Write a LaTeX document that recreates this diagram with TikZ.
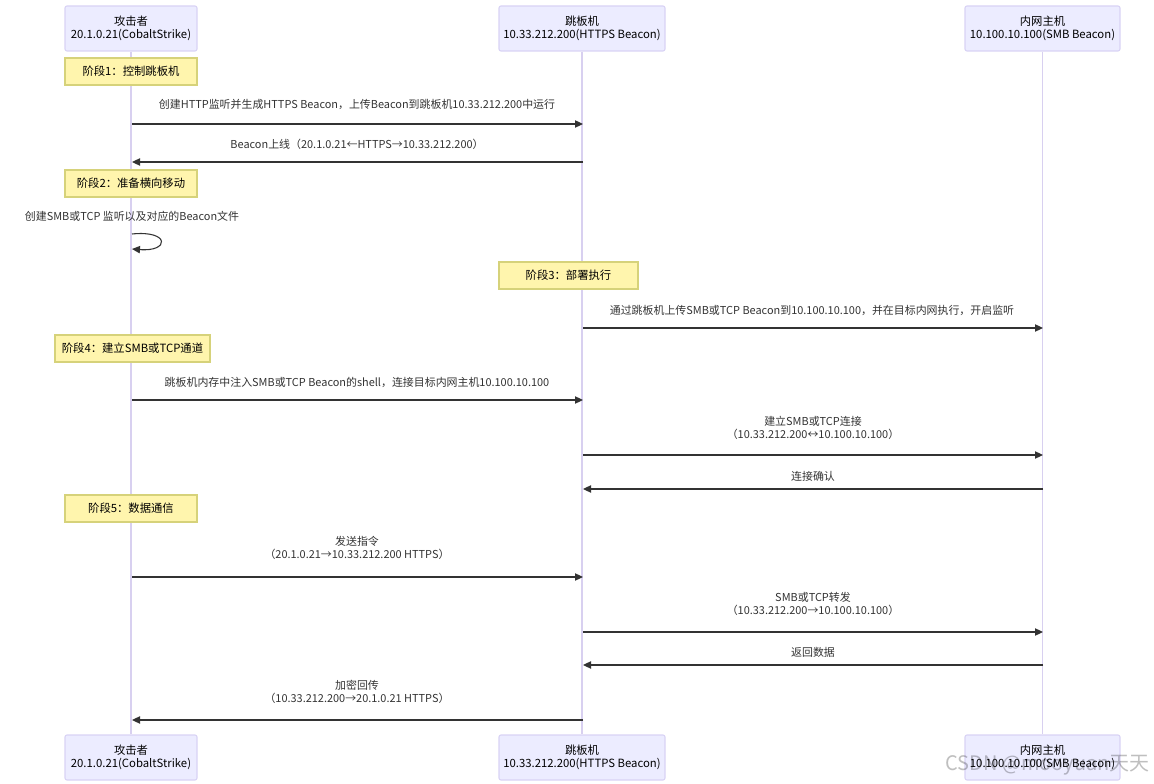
\documentclass[tikz,border=0pt]{standalone}
\usepackage{fontspec}
\setmainfont{Noto Sans CJK SC}
\usetikzlibrary{arrows.meta}
\definecolor{actfill}{HTML}{ECECFF}
\definecolor{actline}{HTML}{D9D3F5}
\definecolor{lifeline}{HTML}{D8D0F0}
\definecolor{notefill}{HTML}{FFF5AD}
\definecolor{noteline}{HTML}{D6D27A}
\definecolor{msg}{HTML}{333333}
\tikzset{
  actor/.style={draw=actline, fill=actfill, rounded corners=1.5pt, line width=0.8pt,
    minimum height=45*0.75pt, align=center, inner sep=0pt,
    font=\fontsize{8.5}{10}\selectfont, text=black},
  notebox/.style={draw=noteline, fill=notefill, line width=0.8pt,
    minimum height=27*0.75pt, inner sep=0pt, font=\fontsize{8.5}{10}\selectfont, text=black},
  life/.style={draw=lifeline, line width=0.9pt},
  msgline/.style={draw=msg, line width=0.8pt, -{Triangle[length=6pt,width=5.5pt]}},
  msgtext/.style={font=\fontsize{8.2}{9.75}\selectfont, text=msg, align=center, inner sep=0pt}
}
\begin{document}
\begin{tikzpicture}[x=0.75pt, y=-0.75pt]
\useasboundingbox (0,0) rectangle (1154,784);
\fill[white] (0,0) rectangle (1154,784);
% actors
\node[actor, minimum width=132*0.75pt] (A) at (131,28.5) {攻击者\\20.1.0.21(CobaltStrike)};
\node[actor, minimum width=166*0.75pt] (J) at (582,28.5) {跳板机\\10.33.212.200(HTTPS Beacon)};
\node[actor, minimum width=155*0.75pt] (I) at (1042.5,28.5) {内网主机\\10.100.10.100(SMB Beacon)};
\node[actor, minimum width=132*0.75pt] (A2) at (131,757.5) {攻击者\\20.1.0.21(CobaltStrike)};
\node[actor, minimum width=166*0.75pt] (J2) at (582,757.5) {跳板机\\10.33.212.200(HTTPS Beacon)};
\node[actor, minimum width=155*0.75pt] (I2) at (1042.5,757.5) {内网主机\\10.100.10.100(SMB Beacon)};
% lifelines
\begin{scope}[on background layer/.style={}]
\draw[life] (A.south) -- (A2.north);
\draw[life] (J.south) -- (J2.north);
\draw[life] (I.south) -- (I2.north);
\end{scope}
% notes
\node[notebox, minimum width=132*0.75pt] (n1) at (131,71.5) {阶段1：控制跳板机};
\node[notebox, minimum width=132*0.75pt] (n2) at (131,183.5) {阶段2：准备横向移动};
\node[notebox, minimum width=139*0.75pt] (n3) at (568.5,275.5) {阶段3：部署执行};
\node[notebox, minimum width=155*0.75pt] (n4) at (132.5,348.5) {阶段4：建立SMB或TCP通道};
\node[notebox, minimum width=132*0.75pt] (n5) at (131,508.5) {阶段5：数据通信};
% message anchor coordinates
\coordinate (a1) at (132,124); \coordinate (j1) at (583,124);
\coordinate (j2) at (583,162); \coordinate (a2) at (132,162);
\coordinate (s1) at (132,234); \coordinate (s2) at (132,249);
\coordinate (j4) at (583,328); \coordinate (i4) at (1043,328);
\coordinate (a5) at (132,400); \coordinate (j5) at (583,400);
\coordinate (j6) at (583,455); \coordinate (i6) at (1043,455);
\coordinate (i7) at (1043,489); \coordinate (j7) at (583,489);
\coordinate (a8) at (132,577); \coordinate (j8) at (583,577);
\coordinate (j9) at (583,632); \coordinate (i9) at (1043,632);
\coordinate (i10) at (1043,665); \coordinate (j10) at (583,665);
\coordinate (j11) at (583,720); \coordinate (a11) at (132,720);
% messages
\node[msgtext] (t1) at (357,104) {创建HTTP监听并生成HTTPS Beacon，上传Beacon到跳板机10.33.212.200中运行};
\draw[msgline] (a1) -- (j1);
\node[msgtext] (t2) at (357,144) {Beacon上线（20.1.0.21←HTTPS→10.33.212.200）};
\draw[msgline] (j2) -- (a2);
\node[msgtext] (t3) at (132,216) {创建SMB或TCP 监听以及对应的Beacon文件};
\draw[msgline] (s1) .. controls (170,230) and (170,252) .. (s2);
\node[msgtext] (t4) at (812,310) {通过跳板机上传SMB或TCP Beacon到10.100.10.100，并在目标内网执行，开启监听};
\draw[msgline] (j4) -- (i4);
\node[msgtext] (t5) at (357,382) {跳板机内存中注入SMB或TCP Beacon的shell，连接目标内网主机10.100.10.100};
\draw[msgline] (a5) -- (j5);
\node[msgtext] (t6) at (813,428) {建立SMB或TCP连接\\（10.33.212.200↔10.100.10.100）};
\draw[msgline] (j6) -- (i6);
\node[msgtext] (t7) at (813,476) {连接确认};
\draw[msgline] (i7) -- (j7);
\node[msgtext] (t8) at (357,548) {发送指令\\（20.1.0.21→10.33.212.200 HTTPS）};
\draw[msgline] (a8) -- (j8);
\node[msgtext] (t9) at (813,604) {SMB或TCP转发\\（10.33.212.200→10.100.10.100）};
\draw[msgline] (j9) -- (i9);
\node[msgtext] (t10) at (813,652) {返回数据};
\draw[msgline] (i10) -- (j10);
\node[msgtext] (t11) at (357,692) {加密回传\\（10.33.212.200→20.1.0.21 HTTPS）};
\draw[msgline] (j11) -- (a11);
% watermark
\node[font=\fontsize{15}{18}\selectfont, text=black, opacity=0.25, anchor=east, inner sep=0pt] (wm) at (1150,765) {CSDN @mooyuan天天};
\end{tikzpicture}
\end{document}
